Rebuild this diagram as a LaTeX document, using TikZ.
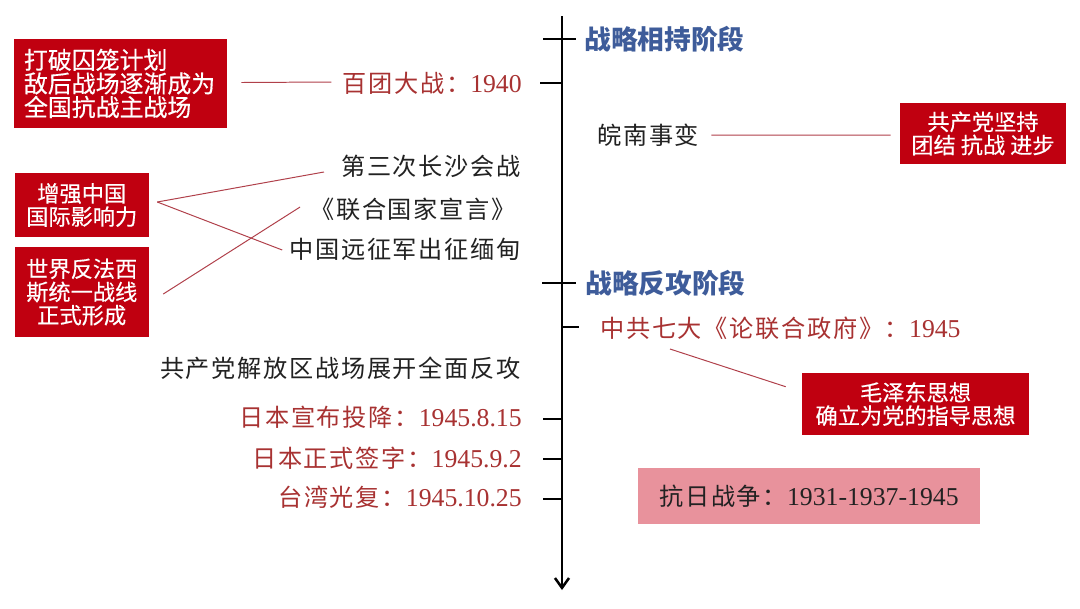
\documentclass[tikz,border=0pt]{standalone}
\usepackage{fontspec}
\usetikzlibrary{arrows.meta,calc}
\newfontfamily\sgf[LetterSpace=7]{Noto Sans CJK SC}
\newfontfamily\heif{Noto Sans CJK SC}
\newfontfamily\boxf[FakeBold=0.4]{Noto Sans CJK SC}
\newfontfamily\latnf{Liberation Serif}
\newcommand\dnum[1]{{\fontsize{18.3pt}{20pt}\latnf #1}}
\definecolor{boxred}{HTML}{C00010}
\definecolor{txtred}{HTML}{A83232}
\definecolor{headblue}{HTML}{3E5C9A}
\definecolor{pinkbox}{HTML}{E8929C}
\definecolor{linered}{HTML}{B0404A}
\definecolor{txtdark}{HTML}{222222}
\tikzset{
  ent/.style={inner sep=0pt, text=txtdark, font=\fontsize{17.2pt}{19pt}\sgf},
  redent/.style={ent, text=txtred},
  head/.style={inner sep=0pt, text=headblue, font=\fontsize{19pt}{22pt}\heif\bfseries},
  redbox/.style={fill=boxred, text=white, inner sep=0pt, align=center,
    font=\fontsize{15.8pt}{16.5pt}\boxf},
  conn/.style={draw=linered, line width=0.7pt},
  axis/.style={line width=2.1pt, black},
  tick/.style={line width=1.8pt, black}
}
\begin{document}
\begin{tikzpicture}[x=0.025cm,y=-0.025cm]
\useasboundingbox (0,0) rectangle (1080,608);
\fill[white] (0,0) rectangle (1080,608);

% axis
\coordinate (atop) at (562,16);
\coordinate (abot) at (562,590);
\draw[axis, -{Straight Barb[length=7pt,width=10pt,line width=1.8pt]}] (atop) -- (abot);

% ticks
\coordinate (t1a) at (543,39); \coordinate (t1b) at (576,39);
\coordinate (t2a) at (540,83); \coordinate (t2b) at (562,83);
\coordinate (t3a) at (542,283); \coordinate (t3b) at (576,283);
\coordinate (t4a) at (562,327); \coordinate (t4b) at (579,327);
\coordinate (t5a) at (543,419); \coordinate (t5b) at (562,419);
\coordinate (t6a) at (543,459); \coordinate (t6b) at (562,459);
\coordinate (t7a) at (543,499); \coordinate (t7b) at (562,499);
\foreach \i in {1,...,7} \draw[tick] (t\i a) -- (t\i b);

% headings
\node[head, anchor=west] (h1) at (584,39) {战略相持阶段};
\node[head, anchor=west] (h2) at (585,283) {战略反攻阶段};

% timeline entries
\node[redent, anchor=east] (bt) at (522,83) {百团大战：\dnum{1940}};
\node[ent, anchor=west] (wn) at (597,135) {皖南事变};
\node[ent, anchor=east] (cs) at (521,166) {第三次长沙会战};
\node[ent, anchor=east] (lh) at (516,209) {《联合国家宣言》};
\node[ent, anchor=east] (yz) at (521,249) {中国远征军出征缅甸};
\node[redent, anchor=west] (zg) at (600,328) {中共七大《论联合政府》：\dnum{1945}};
\node[ent, anchor=east] (jf) at (521,368) {共产党解放区战场展开全面反攻};
\node[redent, anchor=east] (r1) at (522,417) {日本宣布投降：\dnum{1945.8.15}};
\node[redent, anchor=east] (r2) at (522,458) {日本正式签字：\dnum{1945.9.2}};
\node[redent, anchor=east] (r3) at (522,497) {台湾光复：\dnum{1945.10.25}};

% boxes
\node[redbox, align=left, text width=4.825cm, inner xsep=0.25cm,
      minimum height=2.225cm, font=\fontsize{17pt}{16.8pt}\boxf]
      (b1) at (120.5,83.5) {打破囚笼计划\\敌后战场逐渐成为\\全国抗战主战场};
\node[redbox, minimum width=3.36cm, minimum height=1.6cm] (ba) at (81.75,205)
      {增强中国\\国际影响力};
\node[redbox, minimum width=3.36cm, minimum height=2.25cm] (bb) at (81.75,292)
      {世界反法西\\斯统一战线\\正式形成};
\node[redbox, minimum width=4.15cm, minimum height=1.525cm] (rb1) at (983,133.5)
      {共产党坚持\\团结 抗战 进步};
\node[redbox, minimum width=5.675cm, minimum height=1.55cm] (rb2) at (915.5,404)
      {毛泽东思想\\确立为党的指导思想};
\node[fill=pinkbox, inner sep=0pt, minimum width=8.55cm, minimum height=1.4cm,
      text=txtdark, font=\fontsize{17.2pt}{19pt}\sgf] (kr) at (809,496)
      {抗日战争：\dnum{1931-1937-1945}};

% connectors
\draw[conn] ($(b1.east)+(14,-1)$) -- ($(bt.west)+(-11,-1)$);
\draw[conn] ($(wn.east)+(12,0)$) -- ($(rb1.west)+(-9,1.5)$);
\draw[conn] ($(ba.east)+(8,-3)$) -- ($(cs.west)+(-17,6)$);
\draw[conn] ($(ba.east)+(8,-3)$) -- ($(yz.west)+(-7,1)$);
\draw[conn] ($(bb.east)+(14,2)$) -- ($(lh.west)+(-10,-2)$);
\draw[conn] ($(zg.west)+(70,21)$) -- ($(rb2.north west)+(-16,14)$);
\end{tikzpicture}
\end{document}
